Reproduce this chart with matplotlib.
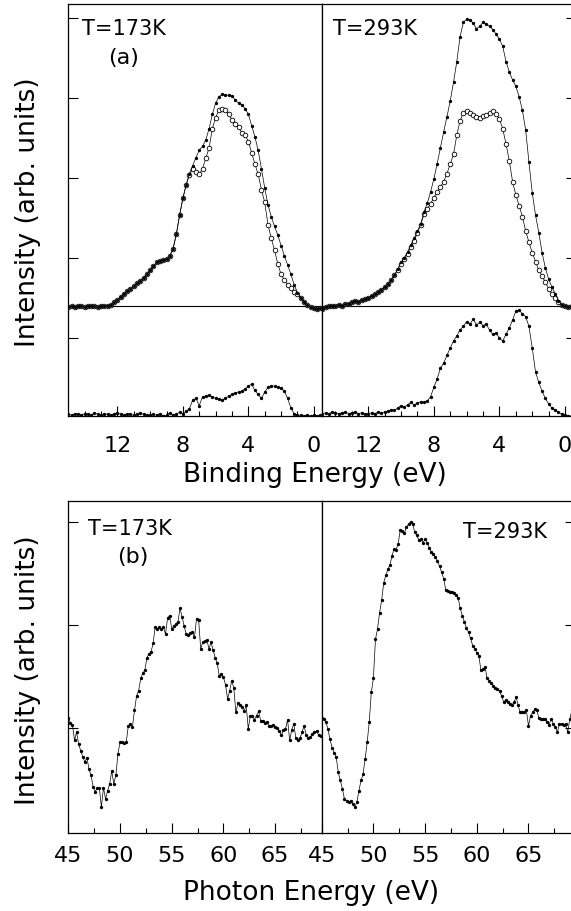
import numpy as np
import matplotlib
matplotlib.use("Agg")
import matplotlib.pyplot as plt
from matplotlib.ticker import FixedLocator

plt.rcParams['font.family'] = 'DejaVu Sans'

# -----------------------------------------------------------
# ----------- (a) espectros en energia de enlace -------------
# -----------------------------------------------------------

# rejilla de energia de enlace (eV), T=173K y T=293K
E_173 = np.linspace(15.0, -0.4, 78)
E_293 = np.linspace(14.8, -0.4, 77)

# T=173K, puntos llenos
lleno_173 = [-0.01, 0.00, -0.01, 0.01, 0.00, -0.01, 0.01, 0.00, 0.00, -0.01,
             0.01, 0.00, 0.01, 0.02, 0.05, 0.08, 0.12, 0.16, 0.19, 0.22,
             0.25, 0.29, 0.32, 0.36, 0.40, 0.45, 0.50, 0.55, 0.57, 0.58,
             0.59, 0.63, 0.72, 0.90, 1.14, 1.35, 1.52, 1.66, 1.76, 1.86,
             1.95, 2.00, 2.08, 2.22, 2.40, 2.54, 2.62, 2.65, 2.64, 2.64,
             2.63, 2.58, 2.54, 2.52, 2.47, 2.40, 2.26, 2.12, 1.95, 1.72,
             1.48, 1.27, 1.12, 1.00, 0.89, 0.76, 0.63, 0.52, 0.40, 0.27,
             0.17, 0.11, 0.06, 0.02, -0.01, -0.02, -0.03, -0.02]
# T=173K, circulos abiertos
abierto_173 = [-0.01, 0.00, -0.01, 0.01, 0.00, -0.01, 0.01, 0.00, 0.00, -0.01,
               0.01, 0.00, 0.01, 0.02, 0.05, 0.08, 0.12, 0.16, 0.19, 0.22,
               0.25, 0.29, 0.32, 0.36, 0.40, 0.45, 0.50, 0.55, 0.57, 0.58,
               0.59, 0.63, 0.72, 0.90, 1.14, 1.35, 1.52, 1.64, 1.72, 1.68,
               1.65, 1.72, 1.85, 1.98, 2.22, 2.36, 2.45, 2.47, 2.45, 2.40,
               2.33, 2.28, 2.24, 2.17, 2.14, 2.06, 1.92, 1.78, 1.65, 1.46,
               1.30, 1.02, 0.85, 0.70, 0.53, 0.40, 0.33, 0.27, 0.23, 0.18,
               0.15, 0.10, 0.06, 0.02, -0.01, -0.02, -0.03, -0.02]
# T=173K, diferencia
dif_173 = [0.02, 0.01, 0.03, 0.02, 0.01, 0.03, 0.02, 0.01, 0.04, 0.02,
           0.01, 0.03, 0.02, 0.01, 0.03, 0.04, 0.02, 0.01, 0.03, 0.02,
           0.01, 0.02, 0.04, 0.02, 0.01, 0.01, 0.02, 0.01, 0.03, 0.00,
           0.01, 0.04, 0.01, 0.02, 0.05, 0.02, 0.06, 0.09, 0.20, 0.22,
           0.13, 0.24, 0.25, 0.26, 0.24, 0.22, 0.21, 0.20, 0.22, 0.25,
           0.27, 0.29, 0.30, 0.31, 0.34, 0.37, 0.40, 0.32, 0.27, 0.22,
           0.30, 0.36, 0.38, 0.37, 0.36, 0.35, 0.31, 0.22, 0.10, 0.03,
           0.01, 0.01, 0.00, 0.01, 0.00, 0.01, 0.00, 0.01]

# T=293K, puntos llenos
lleno_293 = [-0.03, -0.01, 0.00, 0.01, 0.00, 0.02, 0.01, 0.03, 0.03, 0.05,
             0.07, 0.06, 0.08, 0.09, 0.11, 0.13, 0.15, 0.18, 0.21, 0.24,
             0.28, 0.33, 0.39, 0.47, 0.55, 0.61, 0.68, 0.77, 0.85, 0.94,
             1.03, 1.18, 1.29, 1.43, 1.59, 1.78, 1.98, 2.18, 2.37, 2.57,
             2.80, 3.06, 3.37, 3.55, 3.59, 3.58, 3.54, 3.47, 3.50, 3.55,
             3.53, 3.50, 3.46, 3.40, 3.34, 3.25, 3.06, 2.93, 2.83, 2.75,
             2.62, 2.45, 2.20, 1.80, 1.42, 1.14, 0.92, 0.67, 0.48, 0.34,
             0.24, 0.16, 0.07, 0.02, 0.00, -0.01, 0.00]
# T=293K, circulos abiertos
abierto_293 = [-0.03, -0.01, 0.00, 0.01, 0.00, 0.02, 0.01, 0.03, 0.03, 0.05,
               0.07, 0.06, 0.08, 0.09, 0.11, 0.13, 0.15, 0.18, 0.21, 0.24,
               0.28, 0.33, 0.39, 0.46, 0.53, 0.59, 0.66, 0.74, 0.82, 0.92,
               1.02, 1.15, 1.22, 1.28, 1.36, 1.43, 1.49, 1.56, 1.66, 1.78,
               1.90, 2.14, 2.32, 2.42, 2.44, 2.42, 2.39, 2.37, 2.36, 2.38,
               2.39, 2.42, 2.44, 2.41, 2.34, 2.22, 2.03, 1.82, 1.56, 1.39,
               1.26, 1.12, 0.94, 0.80, 0.67, 0.56, 0.45, 0.38, 0.30, 0.22,
               0.15, 0.10, 0.05, 0.02, 0.00, -0.01, 0.00]
# T=293K, diferencia
dif_293 = [0.03, 0.04, 0.03, 0.05, 0.04, 0.03, 0.04, 0.05, 0.03, 0.04,
           0.05, 0.03, 0.04, 0.02, 0.03, 0.04, 0.03, 0.05, 0.04, 0.05,
           0.06, 0.08, 0.07, 0.10, 0.13, 0.11, 0.14, 0.17, 0.14, 0.16,
           0.18, 0.17, 0.19, 0.24, 0.36, 0.46, 0.60, 0.66, 0.76, 0.85,
           0.94, 1.00, 1.08, 1.12, 1.18, 1.15, 1.21, 1.14, 1.17, 1.13,
           1.15, 1.07, 1.02, 1.04, 0.97, 0.94, 1.02, 1.10, 1.20, 1.31,
           1.32, 1.28, 1.24, 1.12, 0.85, 0.55, 0.42, 0.31, 0.22, 0.15,
           0.10, 0.07, 0.05, 0.02, 0.01, 0.00, 0.00]

# -----------------------------------------------------------
# ----------- (b) espectros en energia del foton -------------
# -----------------------------------------------------------

hv = np.linspace(45.0, 69.4, 123)

foton_173 = [1.12, 1.07, 1.05, 0.90, 0.98, 0.86, 0.80, 0.74, 0.69, 0.73,
             0.62, 0.56, 0.45, 0.40, 0.44, 0.44, 0.25, 0.44, 0.33, 0.41,
             0.48, 0.60, 0.48, 0.56, 0.77, 0.88, 0.88, 0.87, 0.88, 1.04,
             1.06, 1.03, 1.19, 1.33, 1.38, 1.50, 1.55, 1.58, 1.70, 1.74,
             1.76, 1.84, 2.00, 1.98, 2.00, 1.98, 2.00, 1.93, 2.09, 2.11,
             1.98, 2.01, 2.03, 2.05, 2.18, 2.10, 2.01, 1.93, 1.92, 1.94,
             1.95, 1.90, 2.08, 2.07, 1.79, 1.85, 1.86, 1.87, 1.79, 1.85,
             1.78, 1.70, 1.65, 1.52, 1.54, 1.51, 1.44, 1.30, 1.38, 1.48,
             1.41, 1.17, 1.26, 1.24, 1.22, 1.18, 1.24, 1.01, 1.14, 1.14,
             1.10, 1.14, 1.18, 1.09, 1.09, 1.07, 1.08, 1.04, 1.04, 1.05,
             1.03, 1.02, 0.99, 0.95, 1.00, 1.01, 1.10, 0.90, 1.00, 1.06,
             0.92, 0.90, 0.92, 0.98, 1.04, 0.95, 0.92, 0.93, 0.96, 0.98,
             0.99, 0.95, 0.94]

foton_293 = [1.12, 1.11, 1.08, 1.01, 0.91, 0.83, 0.78, 0.74, 0.59, 0.51,
             0.43, 0.33, 0.31, 0.30, 0.31, 0.28, 0.25, 0.30, 0.41, 0.51,
             0.57, 0.72, 0.88, 1.08, 1.37, 1.50, 1.88, 1.98, 2.14, 2.26,
             2.43, 2.50, 2.56, 2.60, 2.69, 2.76, 2.75, 2.81, 2.94, 2.93,
             2.91, 2.97, 3.00, 3.02, 3.00, 2.92, 2.89, 2.84, 2.85, 2.82,
             2.85, 2.82, 2.77, 2.73, 2.71, 2.68, 2.64, 2.59, 2.53, 2.47,
             2.36, 2.35, 2.34, 2.34, 2.33, 2.31, 2.28, 2.18, 2.11, 2.05,
             1.99, 1.95, 1.89, 1.82, 1.79, 1.75, 1.72, 1.58, 1.59, 1.61,
             1.50, 1.48, 1.46, 1.43, 1.41, 1.40, 1.38, 1.33, 1.27, 1.29,
             1.27, 1.25, 1.24, 1.27, 1.32, 1.24, 1.17, 1.17, 1.17, 1.19,
             1.04, 1.14, 1.17, 1.20, 1.19, 1.12, 1.11, 1.11, 1.11, 1.08,
             1.05, 1.11, 1.06, 1.03, 0.98, 1.06, 1.06, 1.05, 1.06, 0.98,
             1.11, 1.19, 0.88]

# -----------------------------------------------------------
# ----------------------- Graficas --------------------------
# -----------------------------------------------------------

W, H = 571, 912
fig = plt.figure(figsize=(W / 100, H / 100), dpi=100)


def ejes(x0, x1, y0, y1):
    # ejes dados en pixeles de la imagen (y hacia abajo)
    return fig.add_axes([x0 / W, 1 - y1 / H, (x1 - x0) / W, (y1 - y0) / H])


def texto(x, y, s, **kw):
    fig.text(x / W, 1 - y / H, s, **kw)


def estilo(ax, lado, mayores, menores, pad):
    ax.xaxis.set_major_locator(FixedLocator(mayores))
    ax.xaxis.set_minor_locator(FixedLocator(menores))
    ax.tick_params(axis='x', which='major', direction='in', length=7, width=0.8,
                   labelsize=16, pad=pad, top=False)
    ax.tick_params(axis='x', which='minor', direction='in', length=3.5, width=0.8,
                   top=False)
    ax.tick_params(axis='y', which='both', direction='in', length=7, width=0.8,
                   left=(lado == 'izq'), right=(lado == 'der'),
                   labelleft=False, labelright=False)
    for s in ax.spines.values():
        s.set_linewidth(0.9)


linea = dict(color='k', lw=0.5)
llenos = dict(marker='o', ms=2.4, mfc='k', mec='k', mew=0)
abiertos = dict(marker='o', ms=3.3, mfc='white', mec='k', mew=0.6)

# limites y marcas de (a)
y_a = (-1.371, 3.785)
marcas_a = [-0.396, 0.604, 1.604, 2.604, 3.604]
menores_a = [1, 2, 3, 5, 6, 7, 9, 10, 11, 13, 14]

ax1 = ejes(68.3, 322, 4.5, 417)
ax1.set_xlim(15.0, -0.5)
ax1.set_ylim(*y_a)
ax1.set_yticks(marcas_a)
estilo(ax1, 'izq', [12, 8, 4, 0], menores_a, 14)
ax1.axhline(0, color='k', lw=0.8)
ax1.plot(E_173, abierto_173, **linea, **abiertos)
ax1.plot(E_173, lleno_173, **linea, **llenos)
ax1.plot(E_173, y_a[0] + np.array(dif_173), **linea, **llenos)

ax2 = ejes(322, 575.7, 4.5, 417)
ax2.set_xlim(14.82, -0.65)
ax2.set_ylim(*y_a)
ax2.set_yticks(marcas_a)
estilo(ax2, 'der', [12, 8, 4, 0], menores_a, 14)
ax2.axhline(0, color='k', lw=0.8)
ax2.plot(E_293, abierto_293, **linea, **abiertos)
ax2.plot(E_293, lleno_293, **linea, **llenos)
ax2.plot(E_293, y_a[0] + np.array(dif_293), **linea, **llenos)

# limites y marcas de (b)
y_b = (0, 3.226)
marcas_b = [1.019, 2.019, 3.02]

ax3 = ejes(68.3, 321.7, 501.7, 834)
ax3.set_xlim(45, 69.5)
ax3.set_ylim(*y_b)
ax3.set_yticks(marcas_b)
estilo(ax3, 'izq', [45, 50, 55, 60, 65], [47.5, 52.5, 57.5, 62.5, 67.5], 9)
ax3.plot(hv, foton_173, **linea, **llenos)

ax4 = ejes(321.7, 575, 501.7, 834)
ax4.set_xlim(45, 69.5)
ax4.set_ylim(*y_b)
ax4.set_yticks(marcas_b)
estilo(ax4, 'der', [45, 50, 55, 60, 65], [47.5, 52.5, 57.5, 62.5, 67.5], 9)
ax4.plot(hv, foton_293, **linea, **llenos)

# textos
texto(82, 35, 'T=173K', fontsize=15, va='baseline')
texto(108, 64, '(a)', fontsize=16, va='baseline')
texto(333, 35, 'T=293K', fontsize=15, va='baseline')
texto(88, 535, 'T=173K', fontsize=15, va='baseline')
texto(117, 563, '(b)', fontsize=16, va='baseline')
texto(463, 538, 'T=293K', fontsize=15, va='baseline')

texto(315, 482, 'Binding Energy (eV)', fontsize=19, ha='center', va='baseline')
texto(311, 900, 'Photon Energy (eV)', fontsize=19, ha='center', va='baseline')
texto(28, 212, 'Intensity (arb. units)', fontsize=19, rotation=90,
      ha='center', va='center')
texto(28, 670, 'Intensity (arb. units)', fontsize=19, rotation=90,
      ha='center', va='center')

plt.savefig('out.png', dpi=100)
